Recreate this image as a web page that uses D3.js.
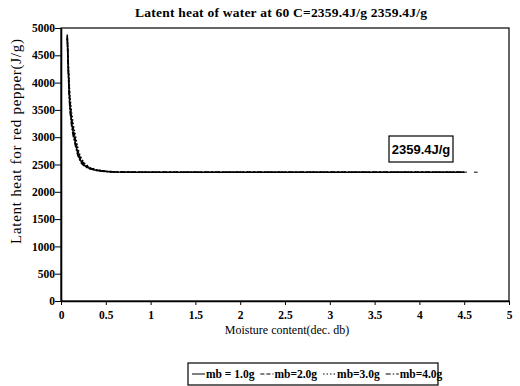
<!DOCTYPE html>
<html>
<head>
<meta charset="utf-8">
<title>latent heat red pepper</title>
<script src="https://d3js.org/d3.v7.min.js"></script>
<style>
  body { margin: 0; background: #fff; }
  svg { display: block; }
  .tick text { font-family: "Liberation Serif", "Times New Roman", serif; font-weight: bold; font-size: 11.5px; fill: #000; }
  .domain, .tick line { stroke: #000; }
</style>
</head>
<body>
<svg width="520" height="386"></svg>
<script>
// moisture content (dec. db) grid shared by all runs
var moisture = [0.07, 0.08, 0.09, 0.10, 0.12, 0.14, 0.16, 0.18, 0.20, 0.23, 0.27, 0.32, 0.40, 0.50, 0.60, 0.80, 1.0, 1.5, 2.0, 2.5, 3.0, 3.5, 4.0, 4.5];
// latent heat for red pepper (J/g), one array per bed mass
var heat_mb1 = [4880, 4300, 3850, 3550, 3250, 3050, 2900, 2750, 2640, 2540, 2470, 2425, 2392, 2372, 2364, 2360, 2359.6, 2359.4, 2359.4, 2359.4, 2359.4, 2359.4, 2359.4, 2359.4];
var heat_mb2 = [4850, 4380, 3950, 3650, 3330, 3120, 2960, 2800, 2680, 2570, 2490, 2435, 2398, 2375, 2365, 2360, 2359.6, 2359.4, 2359.4, 2359.4, 2359.4, 2359.4, 2359.4, 2359.4];
var heat_mb3 = [4800, 4450, 4050, 3750, 3420, 3200, 3030, 2860, 2720, 2600, 2510, 2445, 2402, 2378, 2366, 2361, 2359.6, 2359.4, 2359.4, 2359.4, 2359.4, 2359.4, 2359.4, 2359.4];
var heat_mb4 = [4820, 4250, 3800, 3480, 3180, 2990, 2850, 2710, 2610, 2520, 2460, 2420, 2390, 2370, 2363, 2360, 2359.6, 2359.4, 2359.4, 2359.4, 2359.4, 2359.4, 2359.4, 2359.4];
var seriesNames = ['mb = 1.0g', 'mb=2.0g', 'mb=3.0g', 'mb=4.0g'];
var dashes = [null, '4,2', '1.5,2', '5,2,1.5,2'];
var xTicks = [0, 0.5, 1, 1.5, 2, 2.5, 3, 3.5, 4, 4.5, 5];
var yTicks = [0, 500, 1000, 1500, 2000, 2500, 3000, 3500, 4000, 4500, 5000];
var latentWater = 2359.4;

var svg = d3.select('svg');
var plotL = 61, plotR = 509, plotT = 28, plotB = 301;

var x = d3.scaleLinear().domain([0, 5]).range([plotL, plotR]);
var y = d3.scaleLinear().domain([0, 5000]).range([plotB, plotT]);

// frame
svg.append('rect')
  .attr('x', plotL).attr('y', plotT)
  .attr('width', plotR - plotL).attr('height', plotB - plotT)
  .attr('fill', 'none').attr('stroke', '#000').attr('stroke-width', 1.2);

svg.append('g')
  .attr('transform', 'translate(0,' + plotB + ')')
  .call(d3.axisBottom(x).tickValues(xTicks).tickSize(4).tickSizeOuter(0).tickFormat(d3.format('')))
  .call(g => g.selectAll('.tick text').attr('dy', '0.95em'));

svg.append('g')
  .attr('transform', 'translate(' + plotL + ',0)')
  .call(d3.axisLeft(y).tickValues(yTicks).tickSize(6).tickSizeOuter(0).tickFormat(d3.format('d')))
  .call(g => g.selectAll('.tick text').attr('dx', '0.25em'));

svg.selectAll('.domain').attr('stroke-width', 1.6);

var runs = [heat_mb1, heat_mb2, heat_mb3, heat_mb4];
var line = d3.line()
  .x((d, i) => x(moisture[i]))
  .y(d => y(d));

svg.append('g').selectAll('path')
  .data(runs)
  .enter().append('path')
  .attr('d', d => line(d))
  .attr('fill', 'none')
  .attr('stroke', '#000')
  .attr('stroke-width', 1.5)
  .attr('stroke-dasharray', (d, i) => dashes[i]);

// short tail past 4.5 from the broken lines
svg.append('line')
  .attr('x1', x(4.5)).attr('x2', x(4.53))
  .attr('y1', y(latentWater)).attr('y2', y(latentWater))
  .attr('stroke', '#000').attr('stroke-width', 1);
svg.append('line')
  .attr('x1', x(4.61)).attr('x2', x(4.65))
  .attr('y1', y(latentWater)).attr('y2', y(latentWater))
  .attr('stroke', '#000').attr('stroke-width', 1);

// annotation box
var note = svg.append('g').attr('transform', 'translate(389,136)');
note.append('rect')
  .attr('width', 64).attr('height', 26)
  .attr('fill', '#fff').attr('stroke', '#000').attr('stroke-width', 1.2);
note.append('text')
  .attr('x', 32).attr('y', 18)
  .attr('text-anchor', 'middle')
  .style('font-family', '"Liberation Sans", Arial, sans-serif')
  .style('font-weight', 'bold')
  .style('font-size', '13px')
  .text('2359.4J/g');

// title and axis labels
svg.append('text')
  .attr('x', 135).attr('y', 17)
  .attr('textLength', 292)
  .attr('lengthAdjust', 'spacing')
  .style('font-family', '"Liberation Serif", serif')
  .style('font-weight', 'bold')
  .style('font-size', '13.5px')
  .text('Latent heat of water at 60 C=2359.4J/g 2359.4J/g');

svg.append('text')
  .attr('x', 287).attr('y', 334)
  .attr('text-anchor', 'middle')
  .style('font-family', '"Liberation Serif", serif')
  .style('font-size', '12px')
  .text('Moisture content(dec. db)');

svg.append('text')
  .attr('transform', 'translate(21,244) rotate(-90)')
  .attr('textLength', 205)
  .attr('lengthAdjust', 'spacing')
  .style('font-family', '"Liberation Serif", serif')
  .style('font-size', '15px')
  .text('Latent heat for red pepper(J/g)');

// legend
var legend = svg.append('g').attr('transform', 'translate(188,363)');
legend.append('rect')
  .attr('width', 250).attr('height', 22)
  .attr('fill', 'none').attr('stroke', '#000').attr('stroke-width', 1.2);
var lx = 4;
seriesNames.forEach(function(name, i) {
  legend.append('line')
    .attr('x1', lx).attr('x2', lx + 13)
    .attr('y1', 11).attr('y2', 11)
    .attr('stroke', '#000').attr('stroke-width', 1)
    .attr('stroke-dasharray', dashes[i]);
  var t = legend.append('text')
    .attr('x', lx + 14).attr('y', 15)
    .style('font-family', '"Liberation Serif", serif')
    .style('font-weight', 'bold')
    .style('font-size', '11.5px')
    .text(name);
  lx += 14 + t.node().getComputedTextLength() + 6;
});
</script>
</body>
</html>
